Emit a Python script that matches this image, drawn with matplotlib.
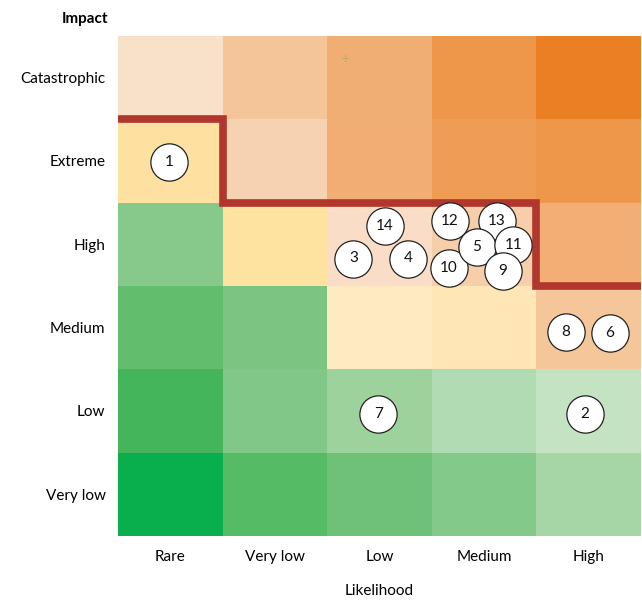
import numpy as np
import matplotlib.pyplot as plt
from matplotlib.colors import to_rgb

plt.rcParams['font.family'] = ['Lato', 'DejaVu Sans']

likelihood = ['Rare', 'Very low', 'Low', 'Medium', 'High']
impact = ['Very low', 'Low', 'Medium', 'High', 'Extreme', 'Catastrophic']

# cell colours, rows from top (Catastrophic) to bottom (Very low)
cell_colors = [
    ['#F9E0C9', '#F5C59A', '#F1AE73', '#ED974A', '#EA7F24'],
    ['#FEE1A1', '#F6D2B2', '#F1AD73', '#EF9C55', '#EE9649'],
    ['#86C98A', '#FEE2A0', '#FADDC7', '#F7CEAA', '#F2AE74'],
    ['#62BD6C', '#7AC581', '#FFEBC2', '#FFE6B6', '#F6C69B'],
    ['#45B55B', '#81C888', '#9DD29D', '#B1DBB2', '#C3E3C2'],
    ['#09AF4D', '#55BB65', '#6FC177', '#83C98A', '#A6D6A5'],
]

# risk appetite line: upper edge per likelihood column
appetite = [5, 4, 4, 4, 3]

# risks: id, likelihood position, impact position
risk_ids = [1, 2, 3, 4, 6, 7, 8, 10, 12, 13, 14, 5, 11, 9]
risk_x = [0.49, 4.46, 2.25, 2.77, 4.70, 2.49, 4.28, 3.16, 3.17, 3.62, 2.55, 3.43, 3.78, 3.68]
risk_y = [4.49, 1.46, 3.33, 3.33, 2.44, 1.46, 2.45, 3.22, 3.78, 3.78, 3.72, 3.47, 3.49, 3.18]

fig = plt.figure(figsize=(6.42, 6.0), dpi=100)
ax = fig.add_axes([118 / 642, 64 / 600, 523 / 642, 500 / 600])

img = np.array([[to_rgb(c) for c in row] for row in cell_colors])
ax.imshow(img, extent=(0, 5, 0, 6), aspect='auto', interpolation='nearest')

ax.stairs(appetite, np.arange(6), baseline=None, color='#B0362E',
          linewidth=5.5, clip_on=False, zorder=3)

for rid, x, y in zip(risk_ids, risk_x, risk_y):
    ax.scatter(x, y, s=720, facecolor='white', edgecolor='#222222',
               linewidth=0.9, zorder=4)
    ax.text(x, y, str(rid), ha='center', va='center', fontsize=11,
            color='#111111', zorder=5)

# small stray mark in the top row
ax.text(2.17, 5.72, '÷', ha='center', va='center', fontsize=9,
        color='#B8A66A', zorder=2)

ax.set_xlim(0, 5)
ax.set_ylim(0, 6)
ax.set_xticks(np.arange(5) + 0.5)
ax.set_xticklabels(likelihood, fontsize=11)
ax.set_yticks(np.arange(6) + 0.5)
ax.set_yticklabels(impact, fontsize=11)
ax.tick_params(axis='x', length=0, pad=10)
ax.tick_params(axis='y', length=0, pad=9)
for label in ax.get_yticklabels():
    label.set_va('center_baseline')
for s in ax.spines.values():
    s.set_visible(False)

fig.text(108 / 642, 1 - 19 / 600, 'Impact', ha='right', va='center',
         fontsize=11, fontweight='bold')
fig.text(379 / 642, 9 / 600, 'Likelihood', ha='center', va='center',
         fontsize=11)

fig.savefig('out.png', dpi=100)
